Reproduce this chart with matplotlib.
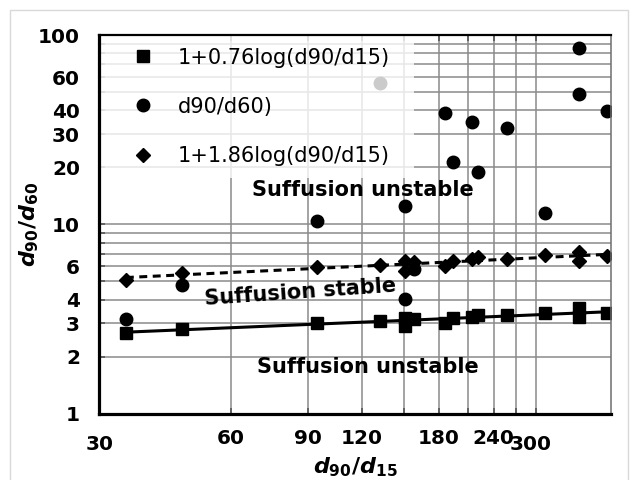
import matplotlib
matplotlib.use("Agg")
import matplotlib.pyplot as plt
import numpy as np
from matplotlib.patches import Rectangle
from matplotlib.transforms import ScaledTranslation

plt.rcParams['font.family'] = ['DejaVu Sans']
plt.rcParams['mathtext.fontset'] = 'custom'
plt.rcParams['mathtext.it'] = 'DejaVu Sans:italic:bold'
plt.rcParams['mathtext.rm'] = 'DejaVu Sans:bold'
plt.rcParams['mathtext.bf'] = 'DejaVu Sans:bold'

# data
ratio_90_15 = [34.5, 46.3, 94.4, 132, 150.4, 150.4, 158, 185.6, 194, 213.7, 221, 257, 315, 377, 377, 436]
low_limit = [2.67, 2.82, 3.02, 3.09, 3.21, 2.90, 3.15, 3.02, 3.21, 3.25, 3.31, 3.31, 3.42, 3.61, 3.24, 3.39]
ratio_90_60 = [3.15, 4.78, 10.4, 56, 12.5, 4.03, 5.81, 38.8, 21.4, 34.7, 18.9, 32.1, 11.5, 85, 49, 39.6]
high_limit = [5.10, 5.57, 5.93, 6.12, 6.43, 5.65, 6.30, 6.00, 6.38, 6.57, 6.70, 6.57, 6.92, 7.12, 6.38, 6.84]
legend_labels = ['1+0.76log(d90/d15)', 'd90/d60)', '1+1.86log(d90/d15)']

x_ticks = [30, 60, 90, 120, 180, 240, 300]
x_minor = [150, 210, 270]
y_ticks = [1, 2, 3, 4, 6, 10, 20, 30, 40, 60, 100]
y_minor = [5, 7, 8, 9, 50, 70, 80, 90]

grid_col = '#8a8a8a'


# power trend line (straight on log-log axes)
def trend(x, y):
    k, b = np.polyfit(np.log10(x), np.log10(y), 1)
    xs = np.array([min(x), max(x)])
    return xs, 10 ** (k * np.log10(xs) + b)


fig = plt.figure(figsize=(6.35, 4.8), dpi=100)
ax = fig.add_axes([0.1565, 0.138, 0.8058, 0.789])
ax.set_xscale('log')
ax.set_yscale('log')
ax.set_xlim(30, 446)
ax.set_ylim(1, 100)

ax.plot(ratio_90_15, low_limit, 's', color='black', ms=8.3, label=legend_labels[0], zorder=4)
ax.plot(ratio_90_15, ratio_90_60, 'o', color='black', ms=9, label=legend_labels[1], zorder=4)
ax.plot(ratio_90_15, high_limit, 'D', color='black', ms=7.3, label=legend_labels[2], zorder=4)

tx, ty = trend(ratio_90_15, low_limit)
ax.plot(tx, ty, '-', color='black', lw=2.2, zorder=3)
tx, ty = trend(ratio_90_15, high_limit)
ax.plot(tx, ty, color='black', lw=2.2, linestyle=(0, (2.6, 1.8)), zorder=3)

# ticks and grid
ax.set_xticks(x_ticks)
ax.set_xticklabels([str(v) for v in x_ticks])
ax.set_xticks(x_minor, minor=True)
ax.set_yticks(y_ticks)
ax.set_yticklabels([str(v) for v in y_ticks])
ax.set_yticks(y_minor, minor=True)
ax.xaxis.set_minor_formatter(plt.NullFormatter())
ax.yaxis.set_minor_formatter(plt.NullFormatter())
ax.grid(True, which='both', color=grid_col, lw=1.1, zorder=0)
ax.set_axisbelow(True)
ax.tick_params(axis='both', which='both', direction='in', length=4, width=1.2,
               color='#555555', labelsize=14.4)
ax.tick_params(axis='x', which='both', top=True, pad=11)
ax.tick_params(axis='y', which='both', pad=14)
for lab in ax.get_xticklabels() + ax.get_yticklabels():
    lab.set_fontweight('bold')

for side in ['left', 'bottom']:
    ax.spines[side].set_linewidth(2.3)
    ax.spines[side].set_color('black')
ax.spines['top'].set_linewidth(1.6)
ax.spines['top'].set_color('black')
ax.spines['right'].set_linewidth(1.1)
ax.spines['right'].set_color('#6e6e6e')
for sp in ax.spines.values():
    sp.set_zorder(6)

ax.set_xlabel(r'$d_{90}/d_{15}$', fontsize=16, labelpad=1)
ax.set_ylabel(r'$d_{90}/d_{60}$', fontsize=16)
ax.yaxis.set_label_coords(-0.115, 0.5)

ax.text(120.4, 15.2, 'Suffusion unstable', fontsize=15, fontweight='bold',
        ha='center', va='center', zorder=3)
ax.text(86.8, 4.39, 'Suffusion stable', fontsize=15, fontweight='bold',
        ha='center', va='center', rotation=4, zorder=3)
ax.text(123.4, 1.76, 'Suffusion unstable', fontsize=15, fontweight='bold',
        ha='center', va='center', zorder=3)

leg = ax.legend(loc='upper left', bbox_to_anchor=(0, 1, 0.615, 0), mode='expand',
                borderaxespad=0, borderpad=0.6, handlelength=3.0, handletextpad=0.15,
                labelspacing=1.4, fontsize=15, frameon=True, fancybox=False,
                facecolor='white', edgecolor='none', framealpha=0.8)
leg.set_zorder(5)

# the 30 and 300 labels sit a bit lower in the original
for lab in ax.get_xticklabels():
    if lab.get_text() == '30':
        lab.set_transform(lab.get_transform() + ScaledTranslation(0, -6 / 100, fig.dpi_scale_trans))
    if lab.get_text() == '300':
        lab.set_transform(lab.get_transform() + ScaledTranslation(-5 / 100, -6 / 100, fig.dpi_scale_trans))

fig.patches.append(Rectangle((0.016, -0.02), 0.973, 1.0, transform=fig.transFigure,
                             fill=False, ec='#d9d9d9', lw=1.0))

fig.savefig('out.png', dpi=100)
